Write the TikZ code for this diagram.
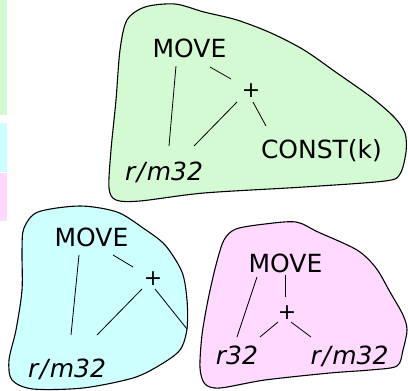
\documentclass[tikz,border=0pt]{standalone}
\usepackage{fontspec}
\setmainfont{DejaVu Sans}
\definecolor{blobgreen}{RGB}{212,250,212}
\definecolor{blobcyan}{RGB}{206,255,255}
\definecolor{blobpink}{RGB}{255,217,255}
\newcommand{\rmreg}{r\kern1.5pt/\kern1.5pt m32}
\begin{document}
\begin{tikzpicture}[x=1pt,y=-1pt,
  blob/.style={draw=black,line width=1.1pt,line join=round},
  lbl/.style={inner sep=0pt,anchor=base,font=\fontsize{25}{30}\selectfont},
  reg/.style={inner sep=0pt,anchor=base,font=\fontsize{25}{30}\selectfont\itshape},
  op/.style={inner sep=0pt,font=\fontsize{22}{26}\selectfont},
  edge/.style={line width=0.8pt}]
\useasboundingbox (0,0) rectangle (408,391);

% colour strips on the left edge
\fill[blobgreen] (0,0) rectangle (7,115);
\fill[blobcyan] (0,123) rectangle (7,172);
\fill[blobpink] (0,173) rectangle (7,221);

% green tile
\filldraw[blob,fill=blobgreen] plot[smooth cycle,tension=0.5] coordinates {
  (109,188) (111,150) (116,100) (120,50) (127,20) (145,7) (175,4) (204,12)
  (237,20) (271,33) (304,50) (337,73) (371,97) (394,117) (405,133) (406,152)
  (400,174) (385,181) (304,187) (204,193) (140,201) (116,200)};

% cyan tile
\filldraw[blob,fill=blobcyan] plot[smooth cycle,tension=0.5] coordinates {
  (24,228) (38,212) (80,206) (117,212) (143,228) (165,245) (182,272) (187,300)
  (187,329) (180,350) (160,365) (133,378) (83,388) (33,389) (12,380) (9,360)
  (16,330) (22,290) (22,250)};

% pink tile
\filldraw[blob,fill=blobpink] plot[smooth cycle,tension=0.5] coordinates {
  (200,368) (202,335) (208,300) (216,265) (224,240) (236,229) (265,224)
  (296,222) (318,232) (357,250) (376,268) (390,292) (403,315) (407,330)
  (403,350) (397,366) (370,370) (330,373) (265,380) (220,388) (205,384)};

% green tree
\node[lbl] (gA) at (189.5,57) {MOVE};
\node[op]  (gP) at (251,91) {+};
\node[reg] (gR) at (164,180) {\rmreg};
\node[lbl] (gC) at (321.5,158) {CONST(k)};
\draw[edge] ([shift={(-13.5,9)}]gA.base) -- ([shift={(5,-34)}]gR.base);
\draw[edge] ([shift={(20.5,10)}]gA.base) -- ([shift={(-20,-12)}]gP.center);
\draw[edge] ([shift={(-14,11)}]gP.center) -- ([shift={(30,-34)}]gR.base);
\draw[edge] ([shift={(2,11)}]gP.center) -- ([shift={(-55.5,-32)}]gC.base);

% cyan tree
\node[lbl] (cA) at (91.5,246) {MOVE};
\node[op]  (cP) at (153,279) {+};
\node[reg] (cR) at (67,377) {\rmreg};
\coordinate (cEnd) at (187,329);
\draw[edge] ([shift={(-12.5,9)}]cA.base) -- ([shift={(4,-42)}]cR.base);
\draw[edge] ([shift={(21.5,9)}]cA.base) -- ([shift={(-20,-12)}]cP.center);
\draw[edge] ([shift={(-11,10)}]cP.center) -- ([shift={(30,-42)}]cR.base);
\draw[edge] ([shift={(2,10)}]cP.center) -- (cEnd);

% pink tree
\node[lbl] (pA) at (285.5,272) {MOVE};
\node[op]  (pP) at (287,313) {+};
\node[reg] (pL) at (237,364) {r32};
\node[reg] (pR) at (349.5,364) {\rmreg};
\draw[edge] ([shift={(-28.5,5)}]pA.base) -- ([shift={(0,-27)}]pL.base);
\draw[edge] ([shift={(-0.5,3)}]pA.base) -- ([shift={(-2,-16)}]pP.center);
\draw[edge] ([shift={(-9,9)}]pP.center) -- ([shift={(23,-27)}]pL.base);
\draw[edge] ([shift={(4,9)}]pP.center) -- ([shift={(-38.5,-27)}]pR.base);
\end{tikzpicture}
\end{document}
